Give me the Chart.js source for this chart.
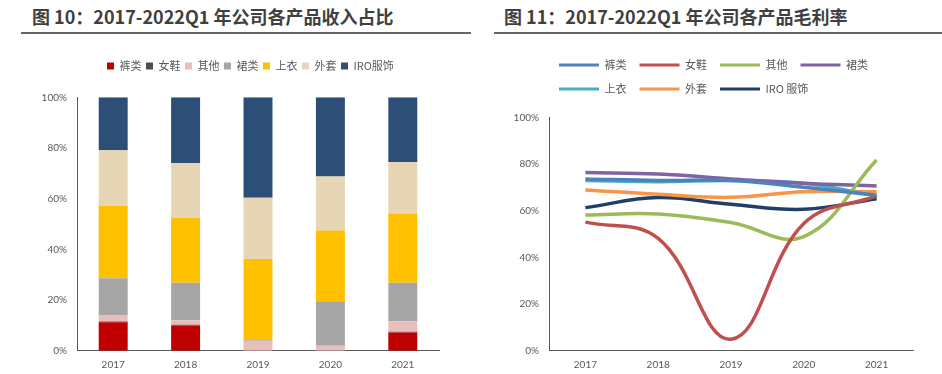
<!DOCTYPE html>
<html>
<head>
<meta charset="utf-8">
<script src="https://cdn.jsdelivr.net/npm/chart.js@4"></script>
<style>
  body { margin: 0; background: #fff; width: 942px; height: 374px; position: relative; overflow: hidden; }
  .title { position: absolute; top: 5px; height: 29px; border-bottom: 2px solid #666; font-family: "Noto Sans CJK SC", sans-serif; font-weight: bold; font-size: 18px; color: #404040; line-height: 23px; box-sizing: border-box; }
  .box { position: absolute; top: 40px; height: 334px; }
</style>
</head>
<body>
<div class="title" style="left:21px;width:450px;padding-left:11px;">图 10：2017-2022Q1 年公司各产品收入占比</div>
<div class="title" style="left:494px;width:448px;padding-left:10px;">图 11：2017-2022Q1 年公司各产品毛利率</div>
<div class="box" style="left:21px;width:450px;"><canvas id="shareChart"></canvas></div>
<div class="box" style="left:494px;width:448px;"><canvas id="marginChart"></canvas></div>
<script>
const years = ['2017', '2018', '2019', '2020', '2021'];
const pctTicks = [0, 20, 40, 60, 80, 100];

// 图10 各产品收入占比 (%)
const shareNames = ['裤类', '女鞋', '其他', '裙类', '上衣', '外套', 'IRO服饰'];
const shareKu = [11.2, 9.9, 0, 0, 7.2];
const shareNvxie = [0.3, 0.3, 0, 0, 0.3];
const shareQita = [2.6, 1.8, 3.9, 2.0, 4.1];
const shareQun = [14.5, 14.8, 0.3, 17.5, 15.2];
const shareShangyi = [28.5, 25.7, 32.0, 27.9, 27.3];
const shareWaitao = [22.0, 21.6, 24.2, 21.3, 20.4];
const shareIro = [20.9, 25.9, 39.6, 31.3, 25.5];
const shareColors = ['#C00000', '#4D4D4D', '#E8BDBD', '#A6A6A6', '#FFC000', '#E6D6B5', '#2D4E76'];

// 图11 各产品毛利率 (%)
const marginNames = ['裤类', '女鞋', '其他', '裙类', '上衣', '外套', 'IRO 服饰'];
const marginKu = [73.6, 72.9, 72.9, 70.0, 66.6];
const marginNvxie = [55.1, 48.1, 4.9, 54.5, 66.3];
const marginQita = [58.1, 58.6, 54.9, 48.9, 81.7];
const marginQun = [76.3, 75.7, 73.6, 71.7, 70.6];
const marginShangyi = [72.9, 72.4, 72.9, 71.7, 66.3];
const marginWaitao = [68.9, 67.0, 65.7, 68.1, 68.1];
const marginIro = [61.3, 65.6, 62.7, 60.6, 65.1];
const marginColors = ['#4F81BD', '#C0504D', '#9BBB59', '#8064A2', '#4BACC6', '#F79646', '#213F66'];

const tickFont = { family: 'Lato, "Noto Sans", sans-serif', size: 10 };
const legendFont = { family: '"Noto Sans CJK SC", sans-serif', size: 11 };
const axisGray = '#595959';

// legend takes no room in the layout, then gets put in a fixed spot above the plot
const legendSpot = {
    id: 'legendSpot',
    afterLayout(chart, args, opts) {
        const lg = chart.legend;
        if (!lg) return;
        lg.left = opts.left; lg.top = opts.top;
        lg.right = opts.left + opts.width; lg.bottom = opts.top + opts.height;
        lg.width = opts.width; lg.height = opts.height;
    }
};

function noBorderLabels(chart) {
    return Chart.defaults.plugins.legend.labels.generateLabels(chart).map(l => ({ ...l, lineWidth: 0 }));
}

function yAxis(width) {
    return {
        min: 0, max: 100,
        afterFit: s => { s.width = width; },
        afterBuildTicks: s => { s.ticks = pctTicks.map(v => ({ value: v })); },
        grid: { display: false, drawTicks: false },
        border: { display: true, color: axisGray, width: 1 },
        ticks: { font: tickFont, color: axisGray, padding: 10, callback: v => v + '%' }
    };
}

function xAxis() {
    return {
        offset: true,
        afterFit: s => { s.height = 23.3; },
        grid: { display: false, drawTicks: false },
        border: { display: true, color: axisGray, width: 1 },
        ticks: { font: tickFont, color: axisGray, padding: 8, maxRotation: 0 }
    };
}

const shareSeries = [shareKu, shareNvxie, shareQita, shareQun, shareShangyi, shareWaitao, shareIro];
new Chart(document.getElementById('shareChart'), {
    type: 'bar',
    data: {
        labels: years,
        datasets: shareSeries.map((d, i) => ({
            label: shareNames[i],
            data: d,
            backgroundColor: shareColors[i],
            borderWidth: 0,
            categoryPercentage: 1,
            barPercentage: 0.4
        }))
    },
    options: {
        responsive: true, maintainAspectRatio: false, animation: false,
        layout: { padding: { top: 57.3, right: 32, left: 0, bottom: 0 } },
        scales: {
            x: { ...xAxis(), stacked: true },
            y: { ...yAxis(56), stacked: true }
        },
        plugins: {
            tooltip: { enabled: false },
            legendSpot: { left: 81.5, top: 16, width: 380, height: 30 },
            legend: {
                position: 'top', align: 'start', fullSize: false, maxHeight: 0.01,
                labels: { boxWidth: 7, boxHeight: 7, padding: 4.5, font: legendFont, color: axisGray, generateLabels: noBorderLabels }
            }
        }
    },
    plugins: [legendSpot]
});

const marginSeries = [marginKu, marginNvxie, marginQita, marginQun, marginShangyi, marginWaitao, marginIro];
new Chart(document.getElementById('marginChart'), {
    type: 'line',
    data: {
        labels: years,
        datasets: marginSeries.map((d, i) => ({
            label: marginNames[i],
            data: d,
            borderColor: marginColors[i],
            backgroundColor: marginColors[i],
            borderWidth: 3.5,
            pointRadius: 0,
            tension: 0.4,
            fill: false
        }))
    },
    options: {
        responsive: true, maintainAspectRatio: false, animation: false,
        layout: { padding: { top: 77.3, right: 29, left: 0, bottom: 0 } },
        scales: {
            x: xAxis(),
            y: yAxis(55)
        },
        plugins: {
            tooltip: { enabled: false },
            legendSpot: { left: 52, top: 6.5, width: 380, height: 60 },
            legend: {
                position: 'top', align: 'start', fullSize: false, maxHeight: 0.01,
                labels: { boxWidth: 40, boxHeight: 3, padding: 13, font: legendFont, color: axisGray, generateLabels: noBorderLabels }
            }
        }
    },
    plugins: [legendSpot]
});
</script>
</body>
</html>
